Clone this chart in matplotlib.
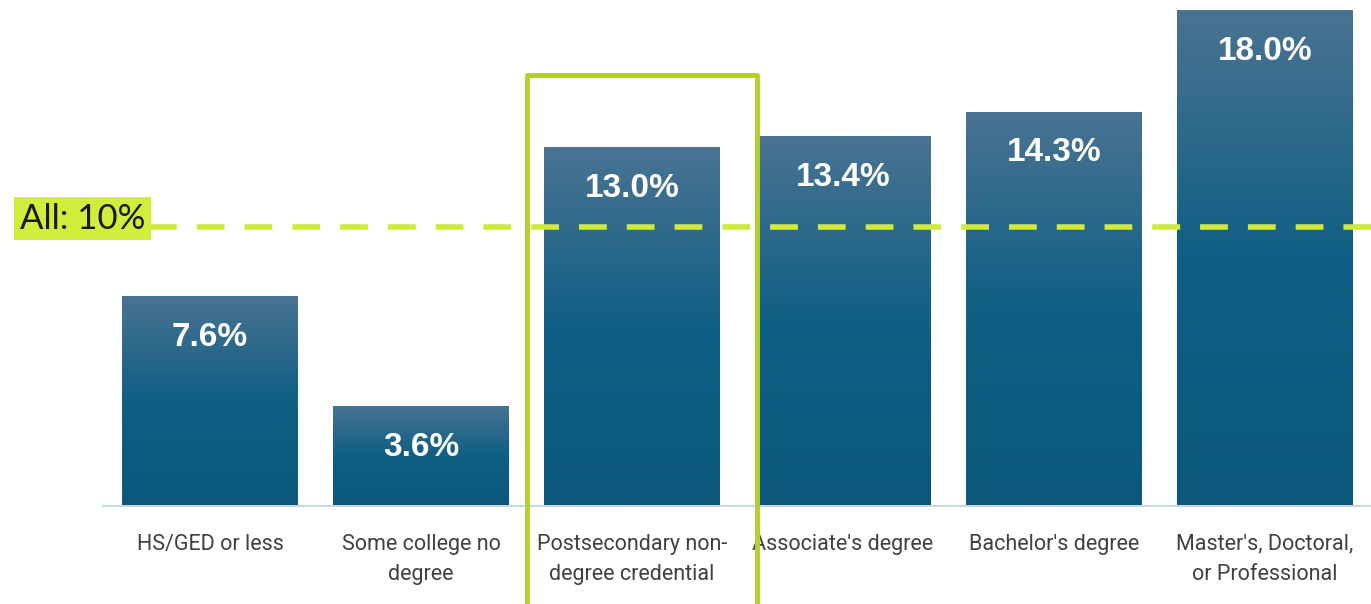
import numpy as np
import matplotlib
matplotlib.use("Agg")
import matplotlib.pyplot as plt
from matplotlib.patches import Rectangle
from matplotlib.colors import LinearSegmentedColormap

categories = [
    "HS/GED or less",
    "Some college no\ndegree",
    "Postsecondary non-\ndegree credential",
    "Associate's degree",
    "Bachelor's degree",
    "Master's, Doctoral,\nor Professional",
]
values = [7.6, 3.6, 13.0, 13.4, 14.3, 18.0]
overall = 10
overall_label = "All: 10%"
highlight_index = 2

fig = plt.figure(figsize=(13.71, 6.04), dpi=100)
ax = fig.add_axes([0, 0, 1, 1])
ax.set_xlim(-0.995, 5.502)
ax.set_ylim(-3.6, 18.36)
ax.axis("off")

bar_width = 0.834
cmap = LinearSegmentedColormap.from_list(
    "bar", ["#0b587c", "#105f84", "#4a7392"])
grad = np.linspace(0, 1, 256).reshape(-1, 1)

for i, v in enumerate(values):
    x0 = i - bar_width / 2
    im = ax.imshow(grad, cmap=cmap, origin="lower", aspect="auto",
                   extent=(x0, x0 + bar_width, 0, v), zorder=2,
                   interpolation="bilinear")
    clip = Rectangle((x0, 0), bar_width, v, transform=ax.transData,
                     facecolor="none", edgecolor="none")
    ax.add_patch(clip)
    im.set_clip_path(clip)
    ax.text(i, v - 1.5, f"{v:.1f}%", ha="center", va="center",
            color="white", fontsize=24, fontweight="bold",
            family="Liberation Sans", zorder=5)
    ax.text(i, -1.05, categories[i], ha="center", va="top",
            color="#404040", fontsize=15.5, family="Roboto",
            linespacing=1.6, zorder=5)

# baseline
ax.plot([-0.51, 5.502], [-0.05, -0.05], color="#c9d6e3", lw=1.5,
        zorder=1, solid_capstyle="butt")

# reference line for all respondents
ax.plot([-0.29, 5.502], [overall + 0.1, overall + 0.1], color="#cfea3c",
        lw=4, dashes=(5, 3.6), zorder=4)
ax.text(-0.9, overall + 0.4, overall_label, ha="left", va="center",
        fontsize=25, family="Lato", color="#1a1a1a", zorder=6,
        bbox=dict(boxstyle="square,pad=0.16", facecolor="#cfef3c",
                  edgecolor="none"))

# highlight box around the selected category
ax.add_patch(Rectangle((highlight_index - 0.498, -4.5), 1.09, 20.13,
                       facecolor="none", edgecolor="#b1d12c", lw=3.5,
                       zorder=6, joinstyle="round"))

fig.savefig("out.png", dpi=100)
